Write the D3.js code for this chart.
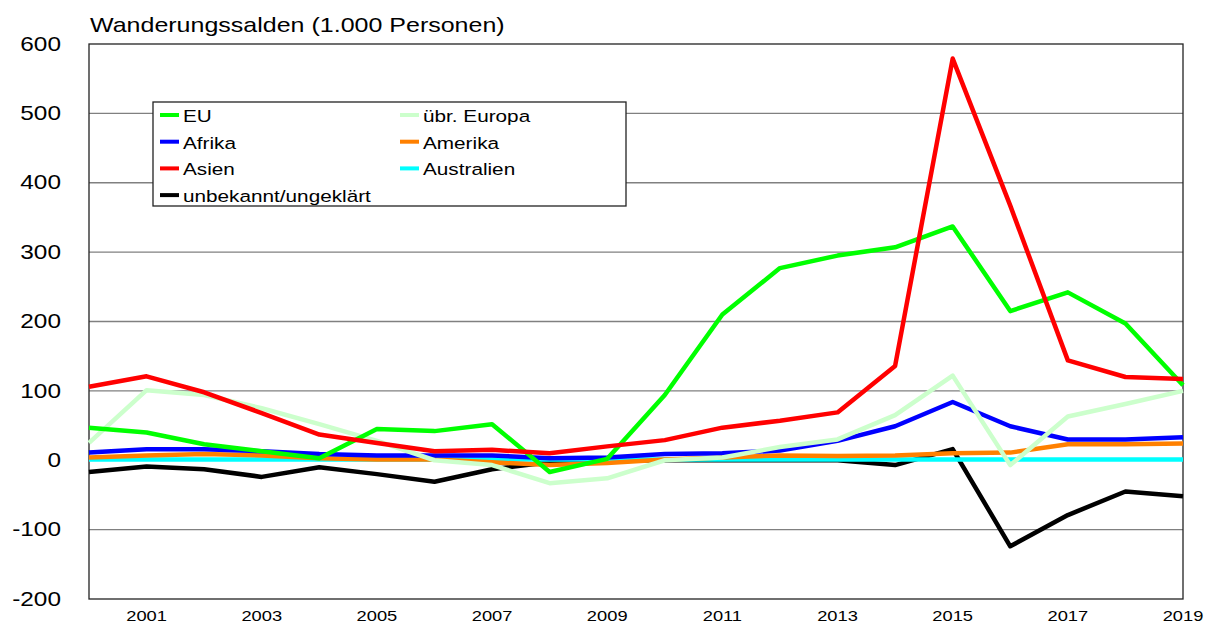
<!DOCTYPE html>
<meta charset="utf-8">
<style>
body { margin: 0; background: #fff; }
text { font-family: "Liberation Sans", Arial, sans-serif; fill: #000; }
.grid { stroke: #808080; stroke-width: 1.3px; }
.ylab { font-size: 20px; text-anchor: end; dominant-baseline: central; }
.xlab { font-size: 15px; text-anchor: middle; }
.title { font-size: 20.5px; }
.leg { font-size: 17px; dominant-baseline: central; }
.series { fill: none; stroke-width: 4.5px; stroke-linejoin: round; }
</style>
<svg width="1209" height="626"></svg>
<script src="https://d3js.org/d3.v7.min.js"></script>
<script>

var years = d3.range(2000, 2020);
var yTicks = [-200, -100, 0, 100, 200, 300, 400, 500, 600];
var xTicks = [2001, 2003, 2005, 2007, 2009, 2011, 2013, 2015, 2017, 2019];

// 1.000 Personen, 2000..2019
var eu         = [47, 40, 23, 13, 3, 45, 42, 52, -17, 2, 94, 210, 277, 295, 307, 337, 215, 242, 197, 108];
var uebrEuropa = [25, 101, 94, 75, 52, 28, 0, -7, -33, -26, 0, 4, 19, 30, 65, 122, -7, 63, 81, 100];
var afrika     = [11, 16, 16, 13, 9, 7, 7, 7, 3, 4, 9, 10, 14, 28, 49, 84, 49, 30, 30, 33];
var amerika    = [4, 7, 9, 7, 3, 1, 1, -3, -7, -4, 1, 4, 7, 6, 7, 10, 11, 23, 23, 24];
var asien      = [106, 121, 98, 68, 37, 25, 13, 15, 10, 20, 29, 47, 57, 69, 136, 579, 367, 144, 120, 117];
var australien = [1, 1, 1, 1, 1, 1, 1, 1, 1, 1, 1, 1, 1, 1, 1, 1, 1, 1, 1, 1];
var unbekannt  = [-17, -9, -13, -24, -10, -20, -31, -13, -3, 0, 0, 0, 0, 0, -7, 16, -124, -79, -45, -52];

var series = [
  { name: "unbekannt/ungeklärt", values: unbekannt, color: "#000000" },
  { name: "Australien", values: australien, color: "#00ffff" },
  { name: "Amerika", values: amerika, color: "#ff8000" },
  { name: "Afrika", values: afrika, color: "#0000ff" },
  { name: "übr. Europa", values: uebrEuropa, color: "#ccffcc" },
  { name: "EU", values: eu, color: "#00ff00" },
  { name: "Asien", values: asien, color: "#ff0000" }
];

var legendOrder = ["EU", "übr. Europa", "Afrika", "Amerika", "Asien", "Australien", "unbekannt/ungeklärt"];

var svg = d3.select("svg"),
    plotL = 89, plotR = 1183, plotT = 44, plotB = 599,
    stretch = 1.22; // the original's text is drawn wider than normal

var x = d3.scaleLinear().domain([2000, 2019]).range([plotL, plotR]);
var y = d3.scaleLinear().domain([-200, 600]).range([plotB, plotT]);

function place(px, py) {
  return "translate(" + px + "," + py + ") scale(" + stretch + ",1)";
}

svg.append("text").attr("class", "title")
    .attr("transform", place(90, 32))
    .text("Wanderungssalden (1.000 Personen)");

// gridlines
svg.append("g").selectAll("line")
  .data(yTicks.filter(function(d) { return d !== 0 && d !== -200 && d !== 600; }))
  .enter().append("line")
    .attr("class", "grid")
    .attr("x1", plotL).attr("x2", plotR)
    .attr("y1", function(d) { return y(d); })
    .attr("y2", function(d) { return y(d); });

svg.append("line")
    .attr("x1", plotL).attr("x2", plotR)
    .attr("y1", y(0)).attr("y2", y(0))
    .attr("stroke", "#000").attr("stroke-width", 1.3);

svg.append("rect")
    .attr("x", plotL).attr("y", plotT)
    .attr("width", plotR - plotL).attr("height", plotB - plotT)
    .attr("fill", "none").attr("stroke", "#222").attr("stroke-width", 1.3);

svg.append("g").selectAll("text")
  .data(yTicks)
  .enter().append("text")
    .attr("class", "ylab")
    .attr("transform", function(d) { return place(61, y(d)); })
    .text(function(d) { return d; });

svg.append("g").selectAll("text")
  .data(xTicks)
  .enter().append("text")
    .attr("class", "xlab")
    .attr("transform", function(d) { return place(x(d), 621); })
    .text(function(d) { return d; });

var line = d3.line()
    .x(function(d, i) { return x(years[i]); })
    .y(function(d) { return y(d); });

svg.append("g").selectAll("path")
  .data(series)
  .enter().append("path")
    .attr("class", "series")
    .attr("stroke", function(d) { return d.color; })
    .attr("d", function(d) { return line(d.values); });

// legend
var lg = svg.append("g");
lg.append("rect")
    .attr("x", 153).attr("y", 102)
    .attr("width", 473).attr("height", 104)
    .attr("fill", "#fff").attr("stroke", "#222").attr("stroke-width", 1.3);

var colorOf = {};
series.forEach(function(s) { colorOf[s.name] = s.color; });

var item = lg.selectAll("g.item")
  .data(legendOrder)
  .enter().append("g")
    .attr("transform", function(d, i) {
      return "translate(" + (i % 2 ? 400 : 160) + "," + (115 + Math.floor(i / 2) * 26.7) + ")";
    });

item.append("line")
    .attr("x1", 0).attr("x2", 19)
    .attr("stroke", function(d) { return colorOf[d]; })
    .attr("stroke-width", 4);

item.append("text")
    .attr("class", "leg")
    .attr("transform", place(23, 1))
    .text(function(d) { return d; });

</script>
